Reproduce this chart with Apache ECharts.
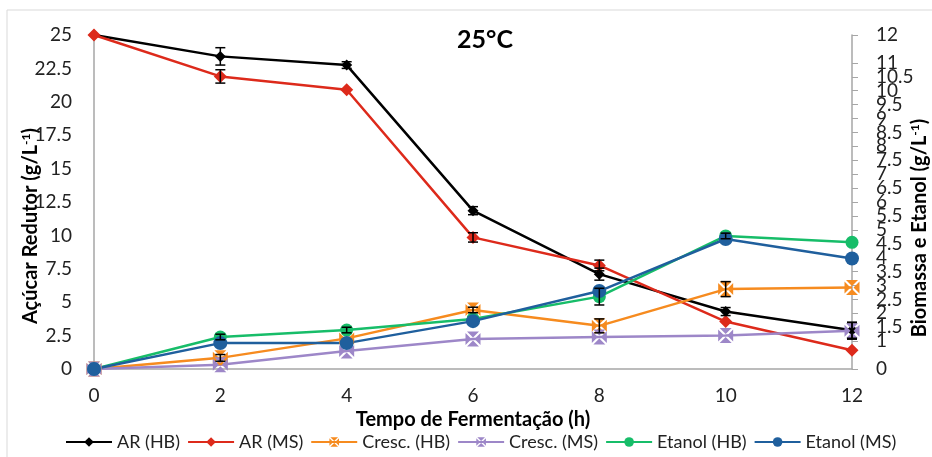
<!DOCTYPE html>
<html>
<head>
<meta charset="utf-8">
<script src="https://cdn.jsdelivr.net/npm/echarts@6/dist/echarts.min.js"></script>
<style>
  html, body { margin: 0; padding: 0; background: #fff; }
  #chart { width: 932px; height: 457px; }
</style>
</head>
<body>
<div id="chart"></div>
<script>
// Fermentation time (h)
const hours = [0, 2, 4, 6, 8, 10, 12];

// Reducing sugar (left axis, g/L)
const arHB = [25, 23.4, 22.75, 11.85, 7.1, 4.3, 2.9];
const arMS = [25, 21.9, 20.9, 9.85, 7.75, 3.55, 1.4];
// Biomass and ethanol (right axis, g/L)
const crescHB = [0, 0.4, 1.1, 2.12, 1.55, 2.87, 2.93];
const crescMS = [0, 0.15, 0.65, 1.08, 1.15, 1.2, 1.37];
const etanolHB = [0, 1.15, 1.4, 1.8, 2.6, 4.78, 4.55];
const etanolMS = [0, 0.93, 0.93, 1.72, 2.8, 4.67, 3.97];

// Standard deviations
const arHBErr = [0, 0.65, 0.25, 0.3, 0.45, 0.3, 0.6];
const arMSErr = [0, 0.5, 0, 0.35, 0.4, 0, 0];
const crescHBErr = [0, 0.12, 0, 0.1, 0.25, 0.27, 0];
const crescMSErr = [0, 0, 0, 0, 0, 0, 0.3];
const etanolHBErr = [0, 0.1, 0.1, 0, 0.3, 0.1, 0];
const etanolMSErr = [0, 0, 0, 0, 0, 0, 0];

const seriesNames = ['AR (HB)', 'AR (MS)', 'Cresc. (HB)', 'Cresc. (MS)', 'Etanol (HB)', 'Etanol (MS)'];

const FONT = 'Lato';
// Square marker split by a white "x"
const crossBox = 'path://M1,0L9,0L5,4Z M10,1L10,9L6,5Z M1,10L9,10L5,6Z M0,1L0,9L4,5Z';

function lineSeries(name, values, color, symbol, size, axis) {
  return {
    name: name,
    type: 'line',
    yAxisIndex: axis,
    data: hours.map((h, i) => [h, values[i]]),
    symbol: symbol,
    symbolSize: size,
    lineStyle: { color: color, width: 2.5 },
    itemStyle: { color: color },
    emphasis: { disabled: true },
    z: 3
  };
}

function errorSeries(values, errs, axis) {
  const data = [];
  hours.forEach((h, i) => {
    if (errs[i] > 0) data.push([h, values[i] - errs[i], values[i] + errs[i]]);
  });
  return {
    type: 'custom',
    yAxisIndex: axis,
    data: data,
    z: 5,
    silent: true,
    renderItem: function (params, api) {
      const lo = api.coord([api.value(0), api.value(1)]);
      const hi = api.coord([api.value(0), api.value(2)]);
      const w = 5;
      const st = { stroke: '#000', lineWidth: 1.5 };
      return {
        type: 'group',
        children: [
          { type: 'line', shape: { x1: lo[0], y1: lo[1], x2: hi[0], y2: hi[1] }, style: st },
          { type: 'line', shape: { x1: hi[0] - w, y1: hi[1], x2: hi[0] + w, y2: hi[1] }, style: st },
          { type: 'line', shape: { x1: lo[0] - w, y1: lo[1], x2: lo[0] + w, y2: lo[1] }, style: st }
        ]
      };
    }
  };
}

const axisTitleRich = {
  a: { fontFamily: FONT, fontWeight: 'bold', fontSize: 20, color: '#000' },
  s: { fontFamily: FONT, fontWeight: 'bold', fontSize: 12, color: '#000', padding: [0, 0, 9, 0] }
};

const chart = echarts.init(document.getElementById('chart'));
chart.setOption({
  animation: false,
  backgroundColor: '#fff',
  textStyle: { fontFamily: FONT },
  grid: { left: 94, right: 80, top: 35, bottom: 88 },
  graphic: [
    { type: 'rect', shape: { x: 7, y: 10, width: 940, height: 460 },
      style: { fill: 'none', stroke: '#d9d9d9', lineWidth: 1 }, z: -10 },
    { type: 'text', x: 485, y: 40,
      style: { text: '25°C', font: 'bold 25px ' + FONT, fill: '#000', align: 'center', verticalAlign: 'middle' } },
    { type: 'text', x: 31, y: 226, rotation: Math.PI / 2,
      style: {
        text: '{a|Açúcar Redutor (g/L}{s|-1}{a|)}', align: 'center', verticalAlign: 'middle',
        rich: axisTitleRich
      } },
    { type: 'text', x: 920, y: 228, rotation: Math.PI / 2,
      style: {
        text: '{a|Biomassa e Etanol (g/L}{s|-1}{a|)}', align: 'center', verticalAlign: 'middle',
        rich: axisTitleRich
      } }
  ],
  legend: {
    data: seriesNames,
    left: 60,
    top: 428,
    itemWidth: 46,
    itemHeight: 12,
    itemGap: 7,
    textStyle: { fontFamily: FONT, fontSize: 18, color: '#222' }
  },
  xAxis: {
    type: 'value',
    min: 0, max: 12, interval: 2,
    name: 'Tempo de Fermentação (h)',
    nameLocation: 'middle',
    nameGap: 35,
    nameTextStyle: { fontFamily: FONT, fontWeight: 'bold', fontSize: 20, color: '#000' },
    axisLine: { lineStyle: { color: '#a6a6a6', width: 1.5 } },
    axisTick: { show: false },
    splitLine: { show: false },
    axisLabel: { margin: 17, fontSize: 19, color: '#222', fontFamily: FONT }
  },
  yAxis: [
    {
      type: 'value',
      min: 0, max: 25, interval: 2.5,
      axisLine: { show: true, lineStyle: { color: '#a6a6a6', width: 1.5 } },
      axisTick: { show: false },
      splitLine: { show: false },
      axisLabel: { margin: 22, fontSize: 19, color: '#222', fontFamily: FONT,
        showMinLabel: true, showMaxLabel: true }
    },
    {
      type: 'value',
      position: 'right',
      min: 0, max: 12, interval: 0.5,
      axisLine: { show: true, lineStyle: { color: '#a6a6a6', width: 1.5 } },
      axisTick: { show: true, length: 6, lineStyle: { color: '#a6a6a6' } },
      splitLine: { show: false },
      axisLabel: { margin: 24, fontSize: 19, color: '#222', fontFamily: FONT,
        hideOverlap: false, showMinLabel: true, showMaxLabel: true }
    }
  ],
  series: [
    lineSeries('AR (HB)', arHB, '#000000', 'diamond', 11, 0),
    lineSeries('AR (MS)', arMS, '#dd2a1b', 'diamond', 13, 0),
    lineSeries('Cresc. (HB)', crescHB, '#f68b1f', crossBox, 15, 1),
    lineSeries('Cresc. (MS)', crescMS, '#9d87c8', crossBox, 15, 1),
    lineSeries('Etanol (HB)', etanolHB, '#17bd69', 'circle', 13, 1),
    lineSeries('Etanol (MS)', etanolMS, '#1f5f9d', 'circle', 14, 1),
    errorSeries(arHB, arHBErr, 0),
    errorSeries(arMS, arMSErr, 0),
    errorSeries(crescHB, crescHBErr, 1),
    errorSeries(crescMS, crescMSErr, 1),
    errorSeries(etanolHB, etanolHBErr, 1),
    errorSeries(etanolMS, etanolMSErr, 1)
  ]
});
</script>
</body>
</html>
